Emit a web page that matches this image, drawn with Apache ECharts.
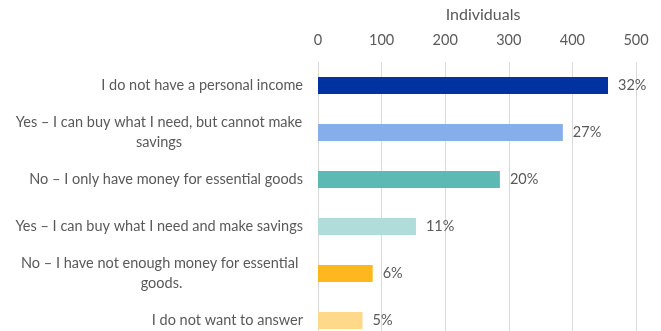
<!DOCTYPE html>
<html>
<head>
<meta charset="utf-8">
<script src="https://cdn.jsdelivr.net/npm/echarts@6/dist/echarts.min.js"></script>
<style>
  html, body { margin: 0; padding: 0; background: #fff; }
  #chart { width: 661px; height: 331px; }
</style>
</head>
<body>
<div id="chart"></div>
<script>
// Answers, top to bottom as shown
const categories = [
  'I do not have a personal income',
  'Yes \u2013 I can buy what I need, but cannot make\nsavings',
  'No \u2013 I only have money for essential goods',
  'Yes \u2013 I can buy what I need and make savings',
  'No \u2013 I have not enough money for essential \ngoods.',
  'I do not want to answer'
];
// Number of individuals per answer
const individuals = [456, 385, 286, 154, 86, 70];
// Share of all respondents, printed next to each bar
const shares = ['32%', '27%', '20%', '11%', '6%', '5%'];
const barColors = ['#0033A0', '#86AEEA', '#5DB9B3', '#AFDDD9', '#FFB71E', '#FFD98A'];
const xTicks = [0, 100, 200, 300, 400, 500];

const FONT = 'Lato';
const FS = 14.5;
const TXT = '#595959';

// Measure text so wrapped labels can be centred line by line
const ctx = document.createElement('canvas').getContext('2d');
ctx.font = FS + 'px "' + FONT + '"';
const rich = {};
categories.forEach((c, i) => {
  const lines = c.split('\n');
  const w = Math.max(...lines.map(l => ctx.measureText(l).width));
  rich['c' + i] = {
    width: Math.ceil(w) + 1,
    align: lines.length > 1 ? 'center' : 'right',
    fontFamily: FONT, fontSize: FS, color: TXT, lineHeight: 20
  };
});

const chart = echarts.init(document.getElementById('chart'), null, { renderer: 'canvas' });
chart.setOption({
  animation: false,
  grid: {
    left: 318, width: 318, top: 62, height: 282,
    containLabel: false, outerBoundsMode: 'none'
  },
  xAxis: {
    type: 'value',
    position: 'top',
    min: xTicks[0], max: xTicks[xTicks.length - 1], interval: 100,
    name: 'Individuals',
    nameLocation: 'middle',
    nameGap: 39,
    nameTextStyle: { fontFamily: FONT, fontSize: 16, color: TXT, padding: [0, 0, 0, 12] },
    axisLine: { show: false },
    axisTick: { show: false },
    axisLabel: { margin: 14, fontFamily: FONT, fontSize: FS, color: TXT },
    splitLine: { lineStyle: { color: '#D9D9D9', width: 1 } }
  },
  yAxis: {
    type: 'category',
    inverse: true,
    data: categories,
    axisLine: { show: true, lineStyle: { color: '#D9D9D9' } },
    axisTick: { show: false },
    axisLabel: {
      margin: 15,
      formatter: (v, i) => v.split('\n').map(l => '{c' + i + '|' + l + '}').join('\n'),
      rich: rich
    }
  },
  series: [{
    type: 'bar',
    data: individuals.map((v, i) => ({ value: v, itemStyle: { color: barColors[i] } })),
    barWidth: 17,
    label: {
      show: true,
      position: 'right',
      distance: 10,
      formatter: p => shares[p.dataIndex],
      fontFamily: FONT, fontSize: FS, color: TXT
    }
  }]
});
</script>
</body>
</html>
